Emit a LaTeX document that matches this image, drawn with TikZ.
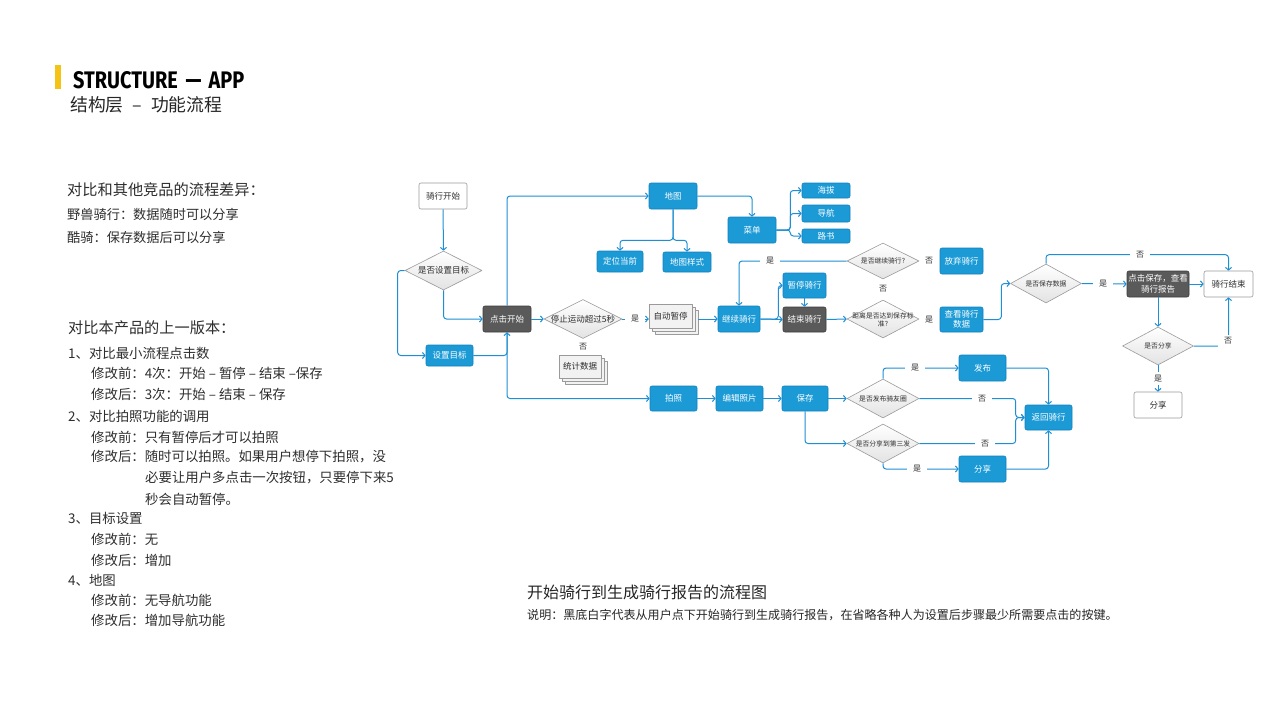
\documentclass[tikz,border=0pt]{standalone}
\usepackage{fontspec}
\usepackage{graphicx}
\setmainfont{Noto Sans CJK SC}
\newfontfamily\titlefont{Fira Sans}
\usetikzlibrary{arrows.meta,shapes.geometric,shadows}
\definecolor{blueF}{HTML}{1B9AD6}
\definecolor{blueD}{HTML}{1282BE}
\definecolor{lineB}{HTML}{1E8FD4}
\definecolor{darkF}{HTML}{5A5A5A}
\definecolor{darkD}{HTML}{3C3C3C}
\definecolor{grayD}{HTML}{9A9A9A}
\definecolor{docF}{HTML}{F2F2F2}
\definecolor{txt}{HTML}{2E2E2E}
\definecolor{titleY}{HTML}{F5C216}
\newcommand\fsz[2]{\fontsize{#1}{#2}\selectfont}
\begin{document}
\begin{tikzpicture}[x=1pt,y=-1pt,line join=round,
  box/.style={rectangle,rounded corners=2pt,inner sep=0pt,align=center,font=\fsz{8.5}{10.5},line width=0.6pt},
  bbox/.style={box,fill=blueF,draw=blueD,text=white},
  dbox/.style={box,fill=darkF,draw=darkD,text=white},
  wbox/.style={box,fill=white,draw=grayD,text=txt},
  doc/.style={rectangle,inner sep=0pt,font=\fsz{8.5}{10.5},text=txt,fill=docF,draw=grayD,line width=0.5pt,
     double copy shadow={shadow xshift=3pt,shadow yshift=-3pt,fill=docF,draw=grayD}},
  dia/.style={diamond,draw=grayD,line width=0.6pt,top color=white,bottom color=gray!22,inner sep=0pt},
  dtext/.style={font=\fsz{6.8}{8.2},text=txt,align=center,inner sep=0pt},
  lbl/.style={font=\fsz{8}{9},text=txt,fill=white,inner xsep=6pt,inner ysep=3pt},
  lt/.style={anchor=west,inner sep=0pt,text=txt},
  ln/.style={draw=lineB,line width=1pt,rounded corners=3pt},
  conn/.style={ln,-{Straight Barb[length=2.6pt,width=6pt,line width=1pt]}}
]
\useasboundingbox[fill=white] (0,0) rectangle (1280,720);

% ---------- title ----------
\path[fill=titleY] (55,65) rectangle (61,89);
\node[anchor=west,inner sep=0pt] (title) at (73,80.5) {\resizebox{171pt}{17pt}{\titlefont\bfseries STRUCTURE\hspace{0.4em}—\hspace{0.35em}APP}};
\node[lt,text=black!85] (subtitle) at (70,105) {\fsz{17.8}{20}结构层\hspace{9pt}–\hspace{9pt}功能流程};

% ---------- left texts ----------
\node[lt] (c1) at (67,190) {\fsz{15.2}{18}对比和其他竞品的流程差异：};
\node[lt] (c2) at (67,214) {\fsz{13.2}{16}野兽骑行：数据随时可以分享};
\node[lt] (c3) at (67,237.5) {\fsz{13.2}{16}酷骑：保存数据后可以分享};

\node[lt] (v0) at (68,328) {\fsz{15.2}{18}对比本产品的上一版本：};
\node[lt] (v1) at (68,353) {\fsz{13.4}{16}1、对比最小流程点击数};
\node[lt] (v2) at (91,373) {\fsz{13.4}{16}修改前：4次：开始 – 暂停 – 结束 –保存};
\node[lt] (v3) at (91,394) {\fsz{13.4}{16}修改后：3次：开始 – 结束 – 保存};
\node[lt] (v4) at (68,416) {\fsz{13.4}{16}2、对比拍照功能的调用};
\node[lt] (v5) at (91,437) {\fsz{13.4}{16}修改前：只有暂停后才可以拍照};
\node[lt] (v6) at (91,457) {\fsz{13.4}{16}修改后：随时可以拍照。如果用户想停下拍照，没};
\node[lt] (v7) at (145,478) {\fsz{13.4}{16}必要让用户多点击一次按钮，只要停下来5};
\node[lt] (v8) at (145,499) {\fsz{13.4}{16}秒会自动暂停。};
\node[lt] (v9) at (68,518) {\fsz{13.4}{16}3、目标设置};
\node[lt] (v10) at (91,539) {\fsz{13.4}{16}修改前：无};
\node[lt] (v11) at (91,560) {\fsz{13.4}{16}修改后：增加};
\node[lt] (v12) at (68,580) {\fsz{13.4}{16}4、地图};
\node[lt] (v13) at (91,600) {\fsz{13.4}{16}修改前：无导航功能};
\node[lt] (v14) at (91,620) {\fsz{13.4}{16}修改后：增加导航功能};

% ---------- bottom caption ----------
\node[lt,text=black!85] (cap1) at (527,592) {\fsz{16}{19}开始骑行到生成骑行报告的流程图};
\node[lt,text=black!85] (cap2) at (527,615) {\fsz{12.05}{14}说明：黑底白字代表从用户点下开始骑行到生成骑行报告，在省略各种人为设置后步骤最少所需要点击的按键。};

% ---------- flow nodes ----------
\node[wbox,minimum width=48pt,minimum height=26pt] (rstart) at (443,196) {骑行开始};
\node[dia,minimum width=77pt,minimum height=39pt] (dset) at (443.5,270.5) {};
\node[dtext,font=\fsz{8.5}{10}] (tset) at (dset) {是否设置目标};
\node[dbox,minimum width=48pt,minimum height=26pt] (start) at (507,319) {点击开始};
\node[bbox,minimum width=47pt,minimum height=21pt] (setgoal) at (449.5,355.5) {设置目标};
\node[dia,minimum width=78pt,minimum height=39pt] (dstop) at (583,319) {};
\node[dtext,font=\fsz{8.5}{10}] (tstop) at (dstop) {停止运动超过5秒};
\node[doc,minimum width=43pt,minimum height=24pt] (auto) at (670.5,316) {自动暂停};
\node[doc,minimum width=42pt,minimum height=23pt] (stat) at (580,366.5) {统计数据};

\node[bbox,minimum width=48pt,minimum height=26pt] (map) at (673,196) {地图};
\node[bbox,minimum width=46pt,minimum height=21pt] (loc) at (620,261.5) {定位当前};
\node[bbox,minimum width=48pt,minimum height=20pt] (mstyle) at (687,262) {地图样式};
\node[bbox,minimum width=48pt,minimum height=26pt] (menu) at (752,230) {菜单};
\node[bbox,minimum width=48pt,minimum height=15pt] (alt) at (826,190.5) {海拔};
\node[bbox,minimum width=48pt,minimum height=17pt] (nav) at (826,213.5) {导航};
\node[bbox,minimum width=48pt,minimum height=14pt] (book) at (826,236) {路书};

\node[dia,minimum width=72pt,minimum height=36pt] (dcont) at (883,261) {};
\node[dtext] (tcont) at (dcont) {是否继续骑行?};
\node[bbox,minimum width=43pt,minimum height=26pt] (quit) at (961.5,261) {放弃骑行};
\node[bbox,minimum width=43pt,minimum height=25pt] (pause) at (804.5,285.5) {暂停骑行};
\node[bbox,minimum width=42pt,minimum height=26pt] (ki) at (739,319) {继续骑行};
\node[dbox,minimum width=43pt,minimum height=25pt] (end) at (804.5,319.5) {结束骑行};
\node[dia,minimum width=72pt,minimum height=38pt] (ddist) at (883,319) {};
\node[dtext] (tdist) at (883,320) {距离是否达到保存标\\准?};
\node[bbox,minimum width=43pt,minimum height=25pt] (view) at (961.5,319.5) {查看骑行\\数据};

\node[dia,minimum width=71pt,minimum height=39pt] (dsave) at (1046,283.5) {};
\node[dtext] (tsave) at (dsave) {是否保存数据};
\node[dbox,minimum width=62pt,minimum height=26pt] (report) at (1158,284) {点击保存，查看\\骑行报告};
\node[wbox,minimum width=49pt,minimum height=26pt] (rend) at (1228.5,284) {骑行结束};
\node[dia,minimum width=71pt,minimum height=38pt] (dshare) at (1158,346) {};
\node[dtext] (tshare) at (dshare) {是否分享};
\node[wbox,minimum width=48pt,minimum height=26pt] (sharew) at (1158,405) {分享};

\node[bbox,minimum width=47pt,minimum height=25pt] (photo) at (673.5,398.5) {拍照};
\node[bbox,minimum width=47pt,minimum height=25pt] (edit) at (739.5,398.5) {编辑照片};
\node[bbox,minimum width=46pt,minimum height=25pt] (save) at (805,398.5) {保存};
\node[dia,minimum width=72pt,minimum height=39pt] (dpub) at (883,398.5) {};
\node[dtext] (tpub) at (dpub) {是否发布骑友圈};
\node[dia,minimum width=72pt,minimum height=39pt] (d3rd) at (883,443.5) {};
\node[dtext] (t3rd) at (d3rd) {是否分享到第三发};
\node[bbox,minimum width=47pt,minimum height=26pt] (pub) at (982.5,368) {发布};
\node[bbox,minimum width=47pt,minimum height=26pt] (share) at (982.5,469) {分享};
\node[bbox,minimum width=47pt,minimum height=25pt] (back) at (1048.5,417.5) {返回骑行};

% ---------- connectors ----------
\draw[conn] (rstart.south) -- (dset.north);
\draw[conn] (dset.west) -- ++(-7,0) |- (setgoal.west);
\draw[conn] (dset.south) |- (start.west);
\draw[conn] (setgoal.east) -| (start.south);
\draw[conn] (start.south) |- (photo.west);
\draw[conn] (start.north) |- (map.west);
\draw[conn] (start.east) -- (dstop.west);
\draw[conn] (dstop.east) -- (dstop.east -| auto.west);
\draw[conn] ([xshift=6pt]auto.east |- ki.west) -- (ki.west);

\draw[conn] (map.south) -- ++(0,31) -| (loc.north);
\draw[conn] (map.south) -- ++(0,31) -| (mstyle.north);
\draw[conn] (map.east) -| (menu.north);
\draw[conn] (menu.east) -- ++(14,0) |- (alt.west);
\draw[conn] (menu.east) -- ++(14,0) |- (nav.west);
\draw[conn] (menu.east) -- ++(14,0) |- (book.west);

\draw[conn] (ki.east) -- ++(18,0) |- (pause.west);
\draw[conn] (ki.east) -- (end.west);
\draw[conn] (pause.south) -- (end.north);
\draw[conn] (end.east) -- (ddist.west);
\draw[conn] (dcont.west) -| (ki.north);
\draw[conn] (view.east) -- ++(18,0) |- (dsave.west);

\draw[conn] (dsave.east) -- (report.west);
\draw[conn] (dsave.north) -- ++(0,-9) -| (rend.north);
\draw[conn] (report.east) -- (rend.west);
\draw[conn] (report.south) -- (dshare.north);
\draw[conn] (dshare.east) -| (rend.south);
\draw[conn] (dshare.south) -- (sharew.north);

\draw[conn] (photo.east) -- (edit.west);
\draw[conn] (edit.east) -- (save.west);
\draw[conn] (save.east) -- (dpub.west);
\draw[conn] (save.south) |- (d3rd.west);
\draw[conn] (dpub.north) |- (pub.west);
\draw[conn] (dpub.east) -| ([xshift=-9pt]back.west) -- (back.west);
\draw[conn] (d3rd.east) -| ([xshift=-9pt]back.west) -- (back.west);
\draw[conn] (d3rd.south) |- (share.west);
\draw[conn] (pub.east) -| (back.north);
\draw[conn] (share.east) -| (back.south);

% ---------- labels ----------
\node[lbl] (l1) at (635,319) {是};
\node[lbl,fill=none] (l2) at (583,347) {否};
\node[lbl] (l3) at (770,261) {是};
\node[lbl,fill=none] (l4) at (929,261) {否};
\node[lbl,fill=none] (l5) at (883,289) {否};
\node[lbl,fill=none] (l6) at (929,320) {是};
\node[lbl] (l7) at (1103,284) {是};
\node[lbl] (l8) at (1140,255) {否};
\node[lbl] (l9) at (1228,341) {否};
\node[lbl] (l10) at (1158,378.5) {是};
\node[lbl] (l11) at (915,368) {是};
\node[lbl] (l12) at (982,398.5) {否};
\node[lbl] (l13) at (985,443.5) {否};
\node[lbl] (l14) at (917,469) {是};
\end{tikzpicture}
\end{document}
